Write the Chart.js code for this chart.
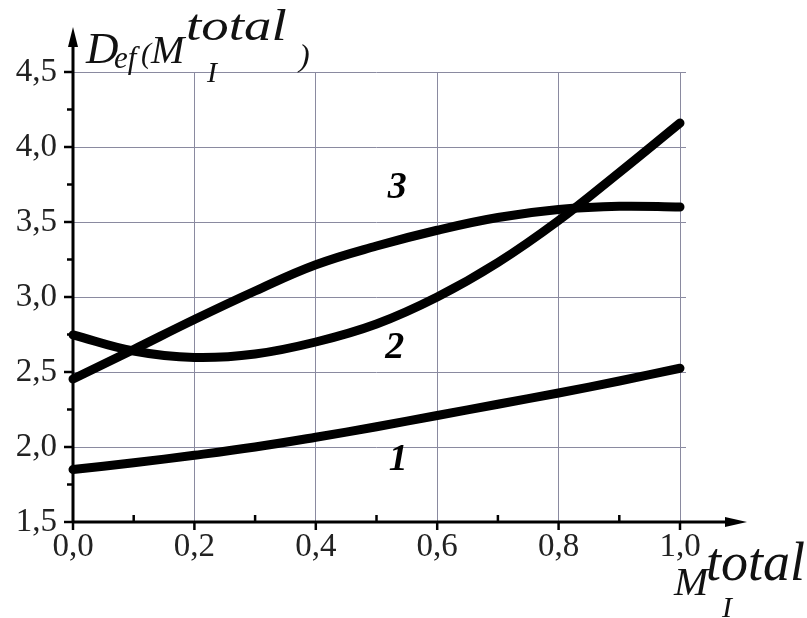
<!DOCTYPE html>
<html>
<head>
<meta charset="utf-8">
<script src="https://cdn.jsdelivr.net/npm/chart.js@4.4.1/dist/chart.umd.min.js"></script>
<style>
  html, body { margin: 0; padding: 0; background: #fff; }
  #wrap { width: 807px; height: 618px; }
</style>
</head>
<body>
<div id="wrap"><canvas id="defChart" width="807" height="618"></canvas></div>
<script>
// M_I^total values and the three D_ef curves
const mTotal = [0.0, 0.1, 0.2, 0.3, 0.4, 0.5, 0.6, 0.7, 0.8, 0.9, 1.0];
const curve1 = [1.85, 1.895, 1.945, 2.0, 2.065, 2.135, 2.21, 2.285, 2.36, 2.44, 2.525];
const curve2 = [2.747, 2.64, 2.597, 2.62, 2.70, 2.82, 3.0, 3.23, 3.51, 3.83, 4.16];
const curve3 = [2.453, 2.65, 2.85, 3.04, 3.215, 3.34, 3.445, 3.53, 3.583, 3.605, 3.6];

// curve numbers: [text, x, y] in data units
const curveLabels = [["1", 0.536, 1.913], ["2", 0.53, 2.66], ["3", 0.534, 3.727]];

const SERIF = '"Liberation Serif", "DejaVu Serif", serif';

function toPoints(ys) {
    return mTotal.map((x, i) => ({ x: x, y: ys[i] }));
}

function commaLabel(v) {
    return Number(v).toFixed(1).replace(".", ",");
}

function curveDataset(ys) {
    return {
        data: toPoints(ys),
        borderColor: "#000",
        borderWidth: 9,
        borderCapStyle: "round",
        borderJoinStyle: "round",
        pointRadius: 0,
        tension: 0.4,
        clip: false
    };
}

// italic serif text, optionally stretched sideways
function italic(ctx, text, size, x, y, stretch) {
    ctx.save();
    ctx.font = "italic " + size + "px " + SERIF;
    ctx.translate(x, y);
    ctx.scale(stretch || 1, 1);
    ctx.fillText(text, 0, 0);
    ctx.restore();
}

const axesPlugin = {
    id: "axesPlugin",
    beforeDatasetsDraw(chart) {
        const ctx = chart.ctx;
        const a = chart.chartArea;
        const xs = chart.scales.x, ys = chart.scales.y;
        ctx.save();

        // grid lines run a little past the right edge
        ctx.strokeStyle = "#8a8aa0";
        ctx.lineWidth = 1;
        for (let v = 1.5; v <= 4.51; v += 0.5) {
            const py = Math.round(ys.getPixelForValue(v)) + 0.5;
            ctx.beginPath();
            ctx.moveTo(a.right, py);
            ctx.lineTo(a.right + 6, py);
            ctx.stroke();
        }

        ctx.strokeStyle = "#000";
        ctx.fillStyle = "#000";
        ctx.lineWidth = 3;

        // y axis with arrow
        ctx.beginPath();
        ctx.moveTo(a.left, a.bottom + 1);
        ctx.lineTo(a.left, a.top - 30);
        ctx.stroke();
        ctx.beginPath();
        ctx.moveTo(a.left, a.top - 45);
        ctx.lineTo(a.left - 5, a.top - 25);
        ctx.lineTo(a.left + 5, a.top - 25);
        ctx.closePath();
        ctx.fill();

        // x axis with arrow
        ctx.beginPath();
        ctx.moveTo(a.left - 1, a.bottom);
        ctx.lineTo(a.right + 50, a.bottom);
        ctx.stroke();
        ctx.beginPath();
        ctx.moveTo(a.right + 67, a.bottom);
        ctx.lineTo(a.right + 45, a.bottom - 5);
        ctx.lineTo(a.right + 45, a.bottom + 5);
        ctx.closePath();
        ctx.fill();

        // tick marks, minor ones shorter
        ctx.lineWidth = 2.5;
        for (let i = 0; i <= 12; i++) {
            const py = ys.getPixelForValue(1.5 + i * 0.25);
            const len = i % 2 === 0 ? 9 : 6;
            ctx.beginPath();
            ctx.moveTo(a.left - len, py);
            ctx.lineTo(a.left, py);
            ctx.stroke();
        }
        for (let i = 0; i <= 10; i++) {
            const px = xs.getPixelForValue(i * 0.1);
            ctx.beginPath();
            if (i % 2 === 0) {
                ctx.moveTo(px, a.bottom);
                ctx.lineTo(px, a.bottom + 8);
            } else {
                ctx.moveTo(px, a.bottom);
                ctx.lineTo(px, a.bottom - 7);
            }
            ctx.stroke();
        }
        ctx.restore();
    },
    afterDraw(chart) {
        const ctx = chart.ctx;
        const xs = chart.scales.x, ys = chart.scales.y;
        ctx.save();
        ctx.fillStyle = "#111";
        ctx.textBaseline = "alphabetic";
        ctx.textAlign = "left";

        // y axis title: D_ef(M_I^total)
        italic(ctx, "D", 45, 86, 63);
        italic(ctx, "ef", 31, 114, 68);
        italic(ctx, "(", 30, 141, 63);
        italic(ctx, "M", 40, 151, 63);
        italic(ctx, "total", 45, 186, 40, 1.22);
        italic(ctx, "I", 30, 207, 82);
        italic(ctx, ")", 32, 299, 66);

        // x axis title: M_I^total
        italic(ctx, "M", 41, 674, 595);
        italic(ctx, "total", 54, 706, 580);
        italic(ctx, "I", 30, 722, 617);

        // curve numbers
        ctx.fillStyle = "#000";
        ctx.textAlign = "center";
        ctx.textBaseline = "middle";
        ctx.font = "italic bold 38px " + SERIF;
        curveLabels.forEach(l => {
            ctx.fillText(l[0], xs.getPixelForValue(l[1]), ys.getPixelForValue(l[2]));
        });
        ctx.restore();
    }
};

const chart = new Chart(document.getElementById("defChart").getContext("2d"), {
    type: "line",
    data: {
        datasets: [curveDataset(curve1), curveDataset(curve2), curveDataset(curve3)]
    },
    options: {
        responsive: false,
        animation: false,
        events: [],
        layout: { padding: { top: 72, right: 127, left: 0, bottom: 0 } },
        plugins: {
            legend: { display: false },
            tooltip: { enabled: false }
        },
        scales: {
            x: {
                type: "linear",
                min: 0,
                max: 1,
                afterFit: s => { s.height = 96; },
                border: { display: false },
                grid: { color: "#8a8aa0", lineWidth: 1, drawTicks: false },
                ticks: {
                    stepSize: 0.2,
                    padding: 6,
                    color: "#222",
                    font: { family: SERIF, size: 33 },
                    maxRotation: 0,
                    callback: v => commaLabel(v)
                }
            },
            y: {
                type: "linear",
                min: 1.5,
                max: 4.5,
                afterFit: s => { s.width = 73; },
                border: { display: false },
                grid: { color: "#8a8aa0", lineWidth: 1, drawTicks: false },
                ticks: {
                    stepSize: 0.5,
                    padding: 16,
                    color: "#222",
                    font: { family: SERIF, size: 33 },
                    callback: v => commaLabel(v)
                }
            }
        }
    },
    plugins: [axesPlugin]
});
</script>
</body>
</html>
